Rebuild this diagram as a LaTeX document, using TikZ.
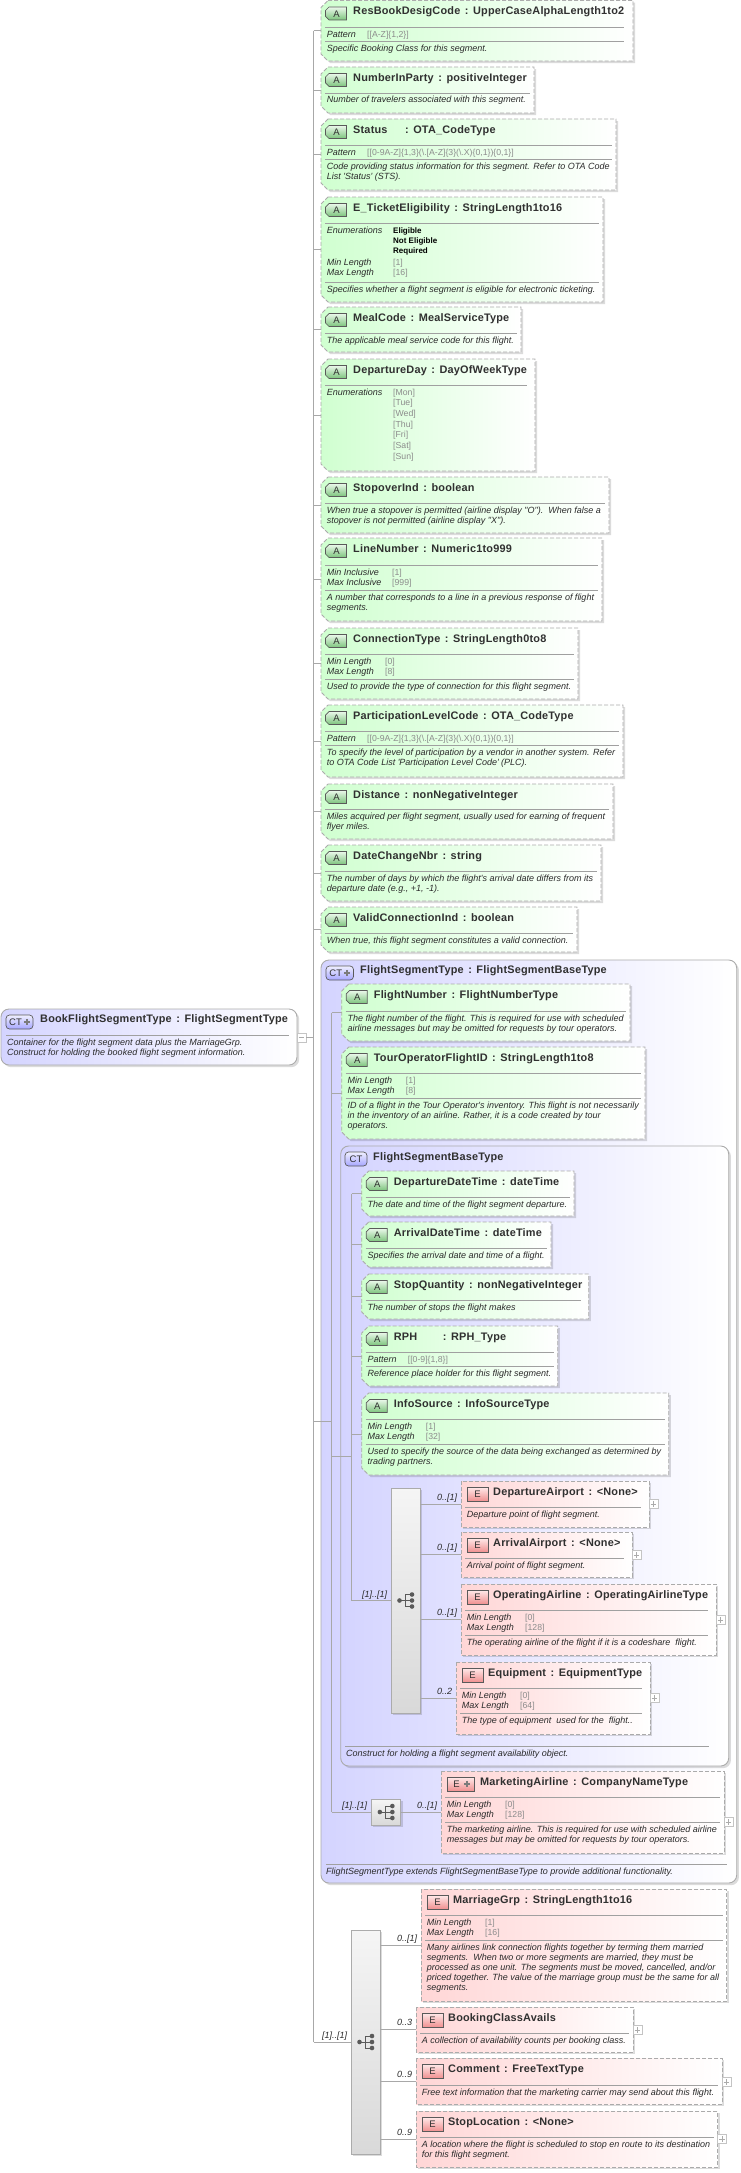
\documentclass[tikz,border=0pt]{standalone}
\usepackage{fontspec}
\usetikzlibrary{shadows}
\newfontfamily\libf{Liberation Sans}
\newfontfamily\ttlf[LetterSpace=1.8]{Liberation Sans}
\definecolor{dash}{HTML}{ABABAB}
\definecolor{sep}{HTML}{A0A0A0}
\definecolor{conn}{HTML}{A8A8A8}
\definecolor{ttlc}{HTML}{303030}
\definecolor{dscc}{HTML}{2A2A2A}
\definecolor{valc}{HTML}{8C8C8C}
\definecolor{grn}{HTML}{D0FFD0}
\definecolor{rd}{HTML}{FFD6D6}
\definecolor{blu}{HTML}{D4D4FF}
\definecolor{bord}{HTML}{5A5A5A}
\definecolor{agt}{HTML}{EAF8EA}
\definecolor{agb}{HTML}{7CC47C}
\definecolor{egt}{HTML}{FFEAEA}
\definecolor{egb}{HTML}{F09090}
\newcounter{tn}
\tikzset{
  shad/.style={general shadow={shadow xshift=2.2pt,shadow yshift=-2.2pt,fill=black,opacity=.14}},
  dbox/.style={shad,draw=dash,line width=.9pt,dash pattern=on 4pt off 2pt},
  afill/.style={dbox,left color=grn,right color=white},
  efill/.style={dbox,left color=rd,right color=white},
  anch/.style={inner sep=0pt,outer sep=0pt,anchor=north west,rectangle},
  cbox/.style={shad,draw=dash,line width=.9pt,rounded corners=8pt,inner sep=0pt,outer sep=0pt,anchor=north west,rectangle,left color=blu,right color=white},
  qbox/.style={shad,draw=dash,line width=.8pt,rectangle,inner sep=0pt,outer sep=0pt,anchor=north west,top color=white!96!black,bottom color=white!85!black},
  bdg/.style={draw=bord,line width=.7pt,inner sep=0pt,outer sep=0pt,anchor=north west,text=ttlc,font=\libf\fontsize{9.5}{10}\selectfont},
  abdg/.style={draw=bord,line width=.7pt,top color=agt,bottom color=agb},
  atxt/.style={inner sep=0pt,text=ttlc,font=\libf\fontsize{9.5}{10}\selectfont},
  ebdg/.style={bdg,rectangle,minimum height=14pt,top color=egt,bottom color=egb},
  cbdg/.style={bdg,rectangle,rounded corners=3.5pt,minimum height=14pt,top color=blue!6,bottom color=blue!35},
  ttl/.style={anchor=west,inner sep=0pt,text=ttlc,text height=8pt,text depth=2.5pt,font=\ttlf\bfseries\fontsize{10.9}{12}\selectfont},
  dsc/.style={anchor=west,inner sep=0pt,text=dscc,text height=7pt,text depth=2pt,font=\libf\itshape\fontsize{9}{10}\selectfont},
  val/.style={anchor=west,inner sep=0pt,text=valc,text height=7pt,text depth=2pt,font=\libf\fontsize{8.7}{10}\selectfont},
  enu/.style={anchor=west,inner sep=0pt,text=black,text height=7pt,text depth=2pt,font=\libf\bfseries\fontsize{8}{10}\selectfont},
  occ/.style={anchor=west,inner sep=0pt,text=dscc,text height=7pt,text depth=2pt,font=\libf\itshape\fontsize{9}{10}\selectfont},
  sp/.style={draw=sep,line width=.7pt},
  cn/.style={draw=conn,line width=.8pt},
  xbox/.style={draw=dash!70,fill=white,line width=.6pt,rectangle,inner sep=0pt,outer sep=0pt,minimum width=9pt,minimum height=9pt},
  sym/.style={fill=bord,draw=none,circle,inner sep=0pt,minimum size=4.6pt},
}
\newcommand\CC{\hspace{4.6pt}:\hspace{4.6pt}}
\newcommand\TX[4][dsc]{\stepcounter{tn}\node[#1] (tx\arabic{tn}) at (#2,#3) {#4};}
\newcommand\SETX[2]{\def\xl{#1}\def\xr{#2}}
\newcommand\HL[2][4]{\draw[sp] (\xl+4,#2) -- (\xr-#1,#2);}
\newcommand\D[2]{\TX{\xl+5.7}{#1}{#2}}
\newcommand\LB[2]{\TX{\xl+5.7}{#1}{#2}}
\newcommand\VL[3]{\TX[val]{\xl+#1}{#2}{#3}}
% \ABOX{id}{x0}{top}{x1}{bot}{title}
\newcommand\ABOX[6]{\SETX{#2}{#4}%
  \path[afill] (#2+7,#3) -- (#4,#3) -- (#4,#5) -- (#2+7,#5) -- (#2,#5-7) -- (#2,#3+7) -- cycle;
  \node[anch,minimum width={(#4-#2)*1pt},minimum height={(#5-#3)*1pt}] (#1) at (#2,#3) {};
  \path[abdg] (#2+8,#3+6.5) -- (#2+25.5,#3+6.5) -- (#2+25.5,#3+19.5) -- (#2+8,#3+19.5) -- (#2+4.5,#3+16) -- (#2+4.5,#3+10) -- cycle;
  \node[atxt] (#1-b) at (#2+15.5,#3+13.3) {A};
  \node[ttl] (#1-t) at (#2+32,#3+11.3) {#6};}
\newcommand\EBOX[6]{\SETX{#2}{#4}%
  \path[efill] (#2,#3) rectangle (#4,#5);
  \node[anch,minimum width={(#4-#2)*1pt},minimum height={(#5-#3)*1pt}] (#1) at (#2,#3) {};
  \node[ebdg,minimum width=21pt] (#1-b) at (#2+6,#3+6) {E};
  \node[ttl] (#1-t) at (#2+32,#3+11.3) {#6};}
\newcommand\MBOX[6]{\SETX{#2}{#4}%
  \path[efill] (#2,#3) rectangle (#4,#5);
  \node[anch,minimum width={(#4-#2)*1pt},minimum height={(#5-#3)*1pt}] (#1) at (#2,#3) {};
  \node[ebdg,minimum width=27pt] (#1-b) at (#2+6,#3+6) {\hspace*{-8pt}E};
  \BPLUS{#2+26}{#3+13}
  \node[ttl] (#1-t) at (#2+39,#3+11.3) {#6};}
\newcommand\PLUS[3]{%
  \node[xbox] (#1) at (#2+4.5,#3) {};
  \draw[draw=dash,line width=.6pt] (#1.center)+(-2.8,0) -- +(2.8,0) (#1.center)+(0,-2.8) -- +(0,2.8);}
\newcommand\SEQ[5]{%
  \node[qbox,minimum width={(#4-#2)*1pt},minimum height={(#5-#3)*1pt}] (#1) at (#2,#3) {};
  \node[sym] (#1-a) at ([xshift=-6pt]#1.center) {};
  \node[sym] (#1-c) at ([xshift=6.5pt]#1.center) {};
  \node[sym] (#1-d) at ([xshift=6.5pt,yshift=6pt]#1.center) {};
  \node[sym] (#1-e) at ([xshift=6.5pt,yshift=-6pt]#1.center) {};
  \draw[draw=bord,line width=.8pt] (#1-a.center) -- (#1-c.center) (#1-d.center) -| (#1.center) |- (#1-e.center);}
\newcommand\BPLUS[2]{\draw[draw=bord!80,line width=2pt] (#1,#2) ++(-3.2,0) -- ++(6.4,0) (#1,#2) ++(0,-3.2) -- ++(0,6.4);}
\begin{document}
\begin{tikzpicture}[x=1pt,y=-1pt]
\useasboundingbox (0,0) rectangle (741,2173);
\coordinate (busA) at (313.7,0);
\coordinate (busB) at (331.7,0);
\coordinate (busC) at (351.7,0);
% root
\SETX{1}{297}
\node[cbox,minimum width=296pt,minimum height=56pt] (root) at (1,1009) {};
\node[cbdg,minimum width=27pt] (root-b) at (6,1015) {\hspace*{-8pt}CT};
\BPLUS{27}{1022}
\node[ttl] (root-t) at (40,1020) {BookFlightSegmentType\CC FlightSegmentType};
\draw[sp] (6,1035) -- (289,1035);
\TX{7}{1043}{Container for the flight segment data plus the MarriageGrp.}
\TX{7}{1053}{Construct for holding the booked flight segment information.}
\node[xbox] (rootexp) at (301.5,1037.5) {};
\draw[draw=dash,line width=.6pt] (rootexp.center)+(-2.8,0) -- +(2.8,0);
% top attributes
\ABOX{a1}{321}{0.5}{633}{61}{ResBookDesigCode\CC UpperCaseAlphaLength1to2}
\HL[9]{27}\LB{35}{Pattern}\VL{46}{35}{[[A-Z]\{1,2\}]}\HL[9]{41}\D{49}{Specific Booking Class for this segment.}
\ABOX{a2}{321}{67}{534}{113}{NumberInParty\CC positiveInteger}
\HL{93}\D{100.5}{Number of travelers associated with this segment.}
\ABOX{a3}{321}{119}{616}{190}{Status\hspace{13pt}\CC OTA\_CodeType}
\HL{145}\LB{153}{Pattern}\VL{46}{153}{[[0-9A-Z]\{1,3\}(\textbackslash.[A-Z]\{3\}(\textbackslash.X)\{0,1\})\{0,1\}]}\HL{159}
\D{167}{Code providing status information for this segment. Refer to OTA Code}\D{177}{List 'Status' (STS).}
\ABOX{a4}{321}{197}{603}{302}{E\_TicketEligibility\CC StringLength1to16}
\HL{223}\LB{231}{Enumerations}
\TX[enu]{\xl+72}{231}{Eligible}\TX[enu]{\xl+72}{240.5}{Not Eligible}\TX[enu]{\xl+72}{251}{Required}
\LB{263}{Min Length}\VL{72}{263}{[1]}\LB{273}{Max Length}\VL{72}{273}{[16]}\HL{282}
\D{289.5}{Specifies whether a flight segment is eligible for electronic ticketing.}
\ABOX{a5}{321}{307}{521}{352}{MealCode\CC MealServiceType}
\HL{333}\D{341}{The applicable meal service code for this flight.}
\ABOX{a6}{321}{359}{535}{471}{DepartureDay\CC DayOfWeekType}
\HL[8]{385}\LB{392.5}{Enumerations}
\VL{72}{392.5}{[Mon]}\VL{72}{402.5}{[Tue]}\VL{72}{413.5}{[Wed]}\VL{72}{424.5}{[Thu]}\VL{72}{435}{[Fri]}\VL{72}{446}{[Sat]}\VL{72}{457}{[Sun]}
\ABOX{a7}{321}{477}{609}{533}{StopoverInd\CC boolean}
\HL{503}\D{511}{When true a stopover is permitted (airline display "O").\ \ When false a}\D{521}{stopover is not permitted (airline display "X").}
\ABOX{a8}{321}{538}{602}{621}{LineNumber\CC Numeric1to999}
\HL{565}\LB{573}{Min Inclusive}\VL{71}{573}{[1]}\LB{583}{Max Inclusive}\VL{71}{583}{[999]}\HL{590}
\D{598}{A number that corresponds to a line in a previous response of flight}\D{608}{segments.}
\ABOX{a9}{321}{628}{578}{699}{ConnectionType\CC StringLength0to8}
\HL{654}\LB{662}{Min Length}\VL{64}{662}{[0]}\LB{672}{Max Length}\VL{64}{672}{[8]}\HL{679}
\D{687}{Used to provide the type of connection for this flight segment.}
\ABOX{a10}{321}{705}{623}{777}{ParticipationLevelCode\CC OTA\_CodeType}
\HL{731}\LB{739}{Pattern}\VL{46}{739}{[[0-9A-Z]\{1,3\}(\textbackslash.[A-Z]\{3\}(\textbackslash.X)\{0,1\})\{0,1\}]}\HL{745}
\D{753}{To specify the level of participation by a vendor in another system. Refer}\D{763}{to OTA Code List 'Participation Level Code' (PLC).}
\ABOX{a11}{321}{784}{613}{839}{Distance\CC nonNegativeInteger}
\HL{809}\D{817}{Miles acquired per flight segment, usually used for earning of frequent}\D{827}{flyer miles.}
\ABOX{a12}{321}{845}{601}{901}{DateChangeNbr\CC string}
\HL{871}\D{879}{The number of days by which the flight's arrival date differs from its}\D{889}{departure date (e.g., +1, -1).}
\ABOX{a13}{321}{907}{577}{952}{ValidConnectionInd\CC boolean}
\HL{933}\D{941}{When true, this flight segment constitutes a valid connection.}
% FlightSegmentType
\node[cbox,minimum width=415.7pt,minimum height=923pt] (fst) at (321,960) {};
\node[cbdg,minimum width=27.5pt] (fst-b) at (326,966) {\hspace*{-8pt}CT};
\BPLUS{347}{973}
\node[ttl] (fst-t) at (360,971) {FlightSegmentType\CC FlightSegmentBaseType};
\draw[sp] (326,1864) -- (727,1864);
\TX{326}{1872}{FlightSegmentType extends FlightSegmentBaseType to provide additional functionality.}
\ABOX{fn}{341.7}{984}{630}{1041}{FlightNumber\CC FlightNumberType}
\HL{1011}\D{1019}{The flight number of the flight. This is required for use with scheduled}\D{1029}{airline messages but may be omitted for requests by tour operators.}
\ABOX{tof}{341.7}{1047}{645}{1139}{TourOperatorFlightID\CC StringLength1to8}
\HL{1073}\LB{1081}{Min Length}\VL{64}{1081}{[1]}\LB{1091}{Max Length}\VL{64}{1091}{[8]}\HL{1098}
\D{1106}{ID of a flight in the Tour Operator's inventory. This flight is not necessarily}\D{1116}{in the inventory of an airline. Rather, it is a code created by tour}\D{1126}{operators.}
% FlightSegmentBaseType
\node[cbox,minimum width=388pt,minimum height=620pt] (fsbt) at (340.7,1146) {};
\node[cbdg,minimum width=22pt] (fsbt-b) at (345,1152) {CT};
\node[ttl] (fsbt-t) at (373,1157.5) {FlightSegmentBaseType};
\draw[sp] (345,1746) -- (709,1746);
\TX{346}{1754}{Construct for holding a flight segment availability object.}
\ABOX{ddt}{361.7}{1171}{574}{1216}{DepartureDateTime\CC dateTime}
\HL{1197}\D{1205}{The date and time of the flight segment departure.}
\ABOX{adt}{361.7}{1222}{551}{1267}{ArrivalDateTime\CC dateTime}
\HL{1248}\D{1256}{Specifies the arrival date and time of a flight.}
\ABOX{sq}{361.7}{1274}{588.7}{1319}{StopQuantity\CC nonNegativeInteger}
\HL[8]{1300}\D{1308}{The number of stops the flight makes}
\ABOX{rph}{361.7}{1326}{557.7}{1386}{RPH\hspace{21pt}\CC RPH\_Type}
\HL{1352}\LB{1360}{Pattern}\VL{46}{1360}{[[0-9]\{1,8\}]}\HL{1366}\D{1374}{Reference place holder for this flight segment.}
\ABOX{info}{361.7}{1393}{668.7}{1475}{InfoSource\CC InfoSourceType}
\HL{1419}\LB{1427}{Min Length}\VL{64}{1427}{[1]}\LB{1437}{Max Length}\VL{64}{1437}{[32]}\HL{1444}
\D{1452}{Used to specify the source of the data being exchanged as determined by}\D{1462}{trading partners.}
% inner sequence
\SEQ{seq1}{391}{1488}{420}{1713}
\TX[occ]{362}{1595}{[1]..[1]}
\EBOX{dep}{461}{1481}{649}{1527}{DepartureAirport\CC <None>}
\HL[8]{1507}\D{1515}{Departure point of flight segment.}
\PLUS{dep-x}{649}{1504}
\TX[occ]{437}{1498}{0..[1]}
\EBOX{arr}{461}{1532}{632}{1577}{ArrivalAirport\CC <None>}
\HL[8]{1558}\D{1566}{Arrival point of flight segment.}
\PLUS{arr-x}{632}{1555}
\TX[occ]{437}{1548}{0..[1]}
\EBOX{opa}{461}{1584}{716}{1655}{OperatingAirline\CC OperatingAirlineType}
\HL[8]{1610}\LB{1618}{Min Length}\VL{64}{1618}{[0]}\LB{1628}{Max Length}\VL{64}{1628}{[128]}\HL[8]{1635}
\D{1643}{The operating airline of the flight if it is a codeshare\ \ flight.}
\PLUS{opa-x}{716}{1620}
\TX[occ]{437}{1613}{0..[1]}
\EBOX{eqp}{456}{1662}{650}{1734}{Equipment\CC EquipmentType}
\HL[8]{1688}\LB{1696}{Min Length}\VL{64}{1696}{[0]}\LB{1706}{Max Length}\VL{64}{1706}{[64]}\HL[8]{1713}
\D{1721}{The type of equipment\ \ used for the\ \ flight..}
\PLUS{eqp-x}{650}{1698}
\TX[occ]{437}{1692}{0..2}
% marketing
\SEQ{seq2}{371}{1799}{400.7}{1825}
\TX[occ]{342}{1806}{[1]..[1]}
\TX[occ]{417}{1806}{0..[1]}
\MBOX{mkt}{441}{1771}{724}{1853}{MarketingAirline\CC CompanyNameType}
\HL[4]{1797}\LB{1805}{Min Length}\VL{64}{1805}{[0]}\LB{1815}{Max Length}\VL{64}{1815}{[128]}\HL[4]{1822}
\D{1830}{The marketing airline. This is required for use with scheduled airline}\D{1840}{messages but may be omitted for requests by tour operators.}
\PLUS{mkt-x}{724}{1822}
% bottom sequence
\SEQ{seq3}{351}{1930}{380}{2154}
\TX[occ]{322}{2036}{[1]..[1]}
\EBOX{mar}{421}{1889}{726.7}{2001}{MarriageGrp\CC StringLength1to16}
\HL{1915}\LB{1923}{Min Length}\VL{64}{1923}{[1]}\LB{1933}{Max Length}\VL{64}{1933}{[16]}\HL{1940}
\D{1948}{Many airlines link connection flights together by terming them married}\D{1958}{segments.\ \ When two or more segments are married, they must be}\D{1968}{processed as one unit. The segments must be moved, cancelled, and/or}\D{1978}{priced together. The value of the marriage group must be the same for all}\D{1988}{segments.}
\TX[occ]{397}{1939}{0..[1]}
\EBOX{bca}{416}{2007}{633}{2052}{BookingClassAvails}
\HL{2033}\D{2041}{A collection of availability counts per booking class.}
\PLUS{bca-x}{633}{2030}
\TX[occ]{397}{2023}{0..3}
\EBOX{cmt}{416}{2058}{722}{2104}{Comment\CC FreeTextType}
\HL{2085}\D{2093}{Free text information that the marketing carrier may send about this flight.}
\PLUS{cmt-x}{722}{2082}
\TX[occ]{397}{2075}{0..9}
\EBOX{stl}{416}{2111}{717.7}{2167}{StopLocation\CC <None>}
\HL{2137}\D{2145}{A location where the flight is scheduled to stop en route to its destination}\D{2155}{for this flight segment.}
\PLUS{stl-x}{717.7}{2139}
\TX[occ]{397}{2133}{0..9}
% connectors
\draw[cn] (rootexp.east) -- (busA |- rootexp.east);
\draw[cn] (busA |- a1.west) -- (busA |- seq3.west);
\foreach \n in {a1,a2,a3,a4,a5,a6,a7,a8,a9,a10,a11,a12,a13,seq3} \draw[cn] (busA |- \n.west) -- (\n.west);
\draw[cn] (busA |- fst.west) -- (busB |- fst.west);
\draw[cn] (busB |- fn.west) -- (busB |- seq2.west);
\foreach \n in {fn,tof,seq2} \draw[cn] (busB |- \n.west) -- (\n.west);
\draw[cn] (busB |- fsbt.west) -- (busC |- fsbt.west);
\draw[cn] (busC |- ddt.west) -- (busC |- seq1.west);
\foreach \n in {ddt,adt,sq,rph,info,seq1} \draw[cn] (busC |- \n.west) -- (\n.west);
\foreach \n in {dep,arr,opa,eqp} \draw[cn] (seq1.east |- \n.west) -- (\n.west);
\draw[cn] (seq2.east) -- (mkt.west);
\foreach \n in {mar,bca,cmt,stl} \draw[cn] (seq3.east |- \n.west) -- (\n.west);
\end{tikzpicture}
\end{document}
